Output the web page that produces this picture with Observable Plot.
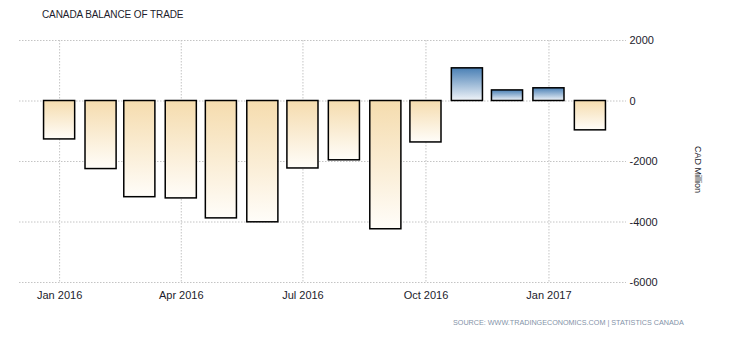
<!DOCTYPE html>
<html>
<head>
<meta charset="utf-8">
<script src="https://cdn.jsdelivr.net/npm/d3@7"></script>
<script src="https://cdn.jsdelivr.net/npm/@observablehq/plot@0.6"></script>
<style>
  html, body { margin: 0; padding: 0; background: #fff; }
  #wrap { position: relative; width: 734px; height: 337px; overflow: hidden; }
  #title { position: absolute; left: 42px; top: 9px; font: 10px "Liberation Sans", sans-serif; color: #1c1c2c; letter-spacing: -0.1px; }
  #source { position: absolute; left: 453px; top: 318px; font: 8px "Liberation Sans", sans-serif; color: #8493a8; white-space: nowrap; transform: scaleX(0.9); transform-origin: 0 0; }
  #chart { position: absolute; left: 0; top: 0; }
</style>
</head>
<body>
<div id="wrap">
  <div id="chart"></div>
  <div id="title">CANADA BALANCE OF TRADE</div>
  <div id="source">SOURCE: WWW.TRADINGECONOMICS.COM | STATISTICS CANADA</div>
</div>
<script>
const months = ["2016-01","2016-02","2016-03","2016-04","2016-05","2016-06","2016-07",
                "2016-08","2016-09","2016-10","2016-11","2016-12","2017-01","2017-02"];
const values = [-1270, -2250, -3180, -3220, -3880, -4010, -2230,
                -1960, -4240, -1370, 1080, 350, 420, -970];
const xTickLabels = ["2016-01","2016-04","2016-07","2016-10","2017-01"];
const yTicks = [-6000, -4000, -2000, 0, 2000];
const yLabel = "CAD Million";

const parse = d3.utcParse("%Y-%m");
const data = months.map((m, i) => ({date: parse(m), value: values[i]}));
const xTicks = xTickLabels.map(parse);
const half = 11.63 * 864e5;

const plot = Plot.plot({
  width: 734,
  height: 337,
  marginTop: 40,
  marginBottom: 55,
  marginLeft: 19,
  marginRight: 108,
  style: {fontFamily: "Liberation Sans, sans-serif", fontSize: "11px", color: "#1c1c2c", background: "#fff"},
  x: {type: "utc", domain: [new Date(Date.UTC(2015, 11, 2)), new Date(Date.UTC(2017, 1, 28))]},
  y: {domain: [-6000, 2000]},
  marks: [
    Plot.gridY(yTicks, {stroke: "#c4c4c4", strokeOpacity: 1, strokeDasharray: "1.5,1.5"}),
    Plot.gridX(xTicks, {stroke: "#c4c4c4", strokeOpacity: 1, strokeDasharray: "1.5,1.5"}),
    Plot.rectY(data.filter(d => d.value < 0), {
      x1: d => new Date(+d.date - half), x2: d => new Date(+d.date + half),
      y1: 0, y2: "value", fill: "url(#gNeg)", stroke: "#000", strokeWidth: 1.5
    }),
    Plot.rectY(data.filter(d => d.value >= 0), {
      x1: d => new Date(+d.date - half), x2: d => new Date(+d.date + half),
      y1: 0, y2: "value", fill: "url(#gPos)", stroke: "#000", strokeWidth: 1.5
    }),
    Plot.axisX(xTicks, {tickSize: 0, tickPadding: 9, tickFormat: d3.utcFormat("%b %Y"), label: null}),
    Plot.axisY(yTicks, {anchor: "right", tickSize: 0, tickPadding: 3, tickFormat: d => String(d), label: null}),
    Plot.text([yLabel], {frameAnchor: "right", dx: 71, dy: 8, rotate: 90, fontSize: 9, text: d => d, textAnchor: "middle", lineAnchor: "middle"})
  ]
});

plot.insertAdjacentHTML("afterbegin",
  `<defs>
    <linearGradient id="gNeg" x1="0" y1="0" x2="0" y2="1">
      <stop offset="0" stop-color="#f5dcae"/>
      <stop offset="1" stop-color="#fffdf9"/>
    </linearGradient>
    <linearGradient id="gPos" x1="0" y1="0" x2="0" y2="1">
      <stop offset="0" stop-color="#4a80b5"/>
      <stop offset="1" stop-color="#f0f4f9"/>
    </linearGradient>
  </defs>`);

document.getElementById("chart").appendChild(plot);
</script>
</body>
</html>
